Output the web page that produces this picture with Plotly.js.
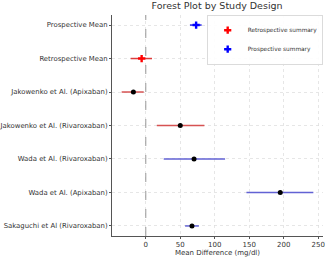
<!DOCTYPE html>
<html>
<head>
<meta charset="utf-8">
<script src="https://cdn.plot.ly/plotly-3.0.1.min.js"></script>
<style>html,body{margin:0;padding:0;background:#fff;}#chart{width:325px;height:258px;}</style>
</head>
<body>
<div id="chart"></div>
<script>
// Studies listed bottom-to-top
const studyLabels = ["Sakaguchi et Al (Rivaroxaban)", "Wada et Al. (Apixaban)", "Wada et Al. (Rivaroxaban)", "Jakowenko et Al. (Rivaroxaban)", "Jakowenko et Al. (Apixaban)", "Retrospective Mean", "Prospective Mean"];
const studyDesign = ["prospective", "prospective", "prospective", "retrospective", "retrospective"];
const studyMean = [67, 195, 70, 50, -18];
const studyLow = [57, 146, 26, 16, -35];
const studyHigh = [77, 243, 115, 85, -3];
const retroSummary = {mean: -6, low: -22, high: 9};
const prospSummary = {mean: 73, low: 64, high: 81};
const xTicks = [0, 50, 100, 150, 200, 250];

const font = "DejaVu Sans, sans-serif";
const traces = [];
const lineColor = {retrospective: "rgb(214,82,82)", prospective: "rgb(98,98,212)"};

studyMean.forEach((m, i) => {
  const c = lineColor[studyDesign[i]];
  traces.push({
    type: "scatter", mode: "markers", x: [m], y: [i], showlegend: false,
    marker: {color: "black", size: 5},
    error_x: {type: "data", symmetric: false, array: [studyHigh[i] - m], arrayminus: [m - studyLow[i]], color: c, thickness: 1.5, width: 0},
    hoverinfo: "skip"
  });
});

traces.push({
  type: "scatter", mode: "markers", x: [retroSummary.mean], y: [5], name: "Retrospective summary",
  marker: {color: "red", size: 6, symbol: "cross"},
  error_x: {type: "data", symmetric: false, array: [retroSummary.high - retroSummary.mean], arrayminus: [retroSummary.mean - retroSummary.low], color: "rgb(220,60,60)", thickness: 1.5, width: 0}
});
traces.push({
  type: "scatter", mode: "markers", x: [prospSummary.mean], y: [6], name: "Prospective summary",
  marker: {color: "blue", size: 6, symbol: "cross"},
  error_x: {type: "data", symmetric: false, array: [prospSummary.high - prospSummary.mean], arrayminus: [prospSummary.mean - prospSummary.low], color: "rgb(40,40,230)", thickness: 1.5, width: 0}
});

const layout = {
  width: 325, height: 258,
  margin: {l: 112, r: 2, t: 15, b: 22},
  paper_bgcolor: "#fff", plot_bgcolor: "#fff",
  font: {family: font, size: 7, color: "#333"},
  title: {text: "Forest Plot by Study Design", font: {family: font, size: 9.5, color: "#333"}, x: 0.668, xanchor: "center", y: 0.99, yanchor: "top"},
  showlegend: true,
  legend: {x: 1, xanchor: "right", y: 1, yanchor: "top", bgcolor: "rgba(255,255,255,0.9)", bordercolor: "#ccc", borderwidth: 0.7, font: {size: 5.8, family: font, color: "#333"}, itemwidth: 30, tracegroupgap: 0},
  xaxis: {
    range: [-49, 257], tickvals: xTicks, ticktext: xTicks.map(String),
    showgrid: true, gridcolor: "#dcdcdc", griddash: "dot", gridwidth: 0.7,
    zeroline: false,
    showline: true, linecolor: "#555", linewidth: 1, mirror: false,
    ticks: "outside", ticklen: 2, tickcolor: "#555", tickfont: {size: 7, family: font, color: "#333"},
    title: {text: "Mean Difference (mg/dl)", font: {size: 7, family: font, color: "#333"}, standoff: 0}
  },
  yaxis: {
    range: [-0.3, 6.3], tickvals: [0,1,2,3,4,5,6], ticktext: studyLabels,
    showgrid: true, gridcolor: "#dcdcdc", griddash: "dot", gridwidth: 0.7,
    zeroline: false, showline: true, linecolor: "#555", linewidth: 1,
    ticks: "outside", ticklen: 2, tickcolor: "#555", tickfont: {size: 6.9, family: font, color: "#333"}
  },
  shapes: [{type: "line", xref: "x", yref: "paper", x0: 0, x1: 0, y0: 0, y1: 1, line: {color: "#999", width: 1, dash: "dash"}}]
};

Plotly.newPlot("chart", traces, layout, {displayModeBar: false, staticPlot: true});
</script>
</body>
</html>
